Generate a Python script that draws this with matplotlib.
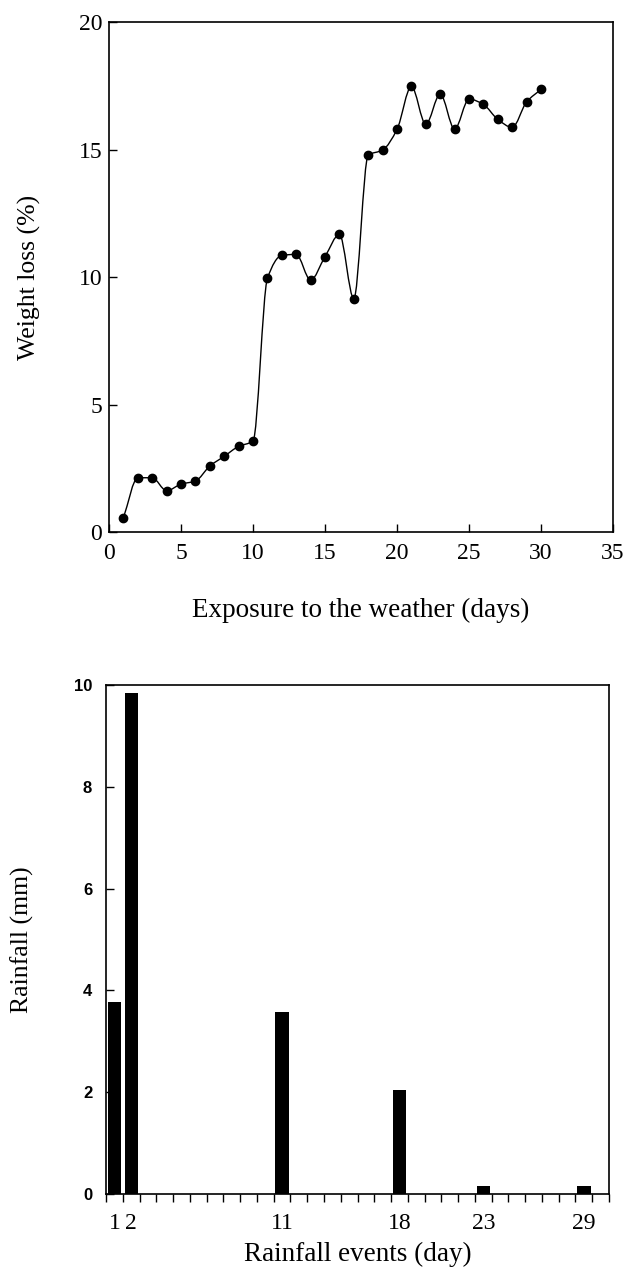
import numpy as np
import matplotlib
matplotlib.use("Agg")
import matplotlib.pyplot as plt
from matplotlib.path import Path
from matplotlib.patches import PathPatch

# ---- data ----
days = list(range(1, 31))
weight_loss = [0.56, 2.13, 2.13, 1.62, 1.88, 2.0, 2.59, 2.97, 3.36, 3.57,
               9.95, 10.85, 10.89, 9.88, 10.8, 11.67, 9.15, 14.78, 14.98, 15.79,
               17.48, 15.99, 17.18, 15.8, 16.98, 16.77, 16.18, 15.87, 16.87, 17.36]

rain_days = [1, 2, 11, 18, 23, 29]
rain_mm = [3.78, 9.84, 3.57, 2.05, 0.15, 0.16]
rain_labels = ["1", "2", "11", "18", "23", "29"]

SERIF = "Liberation Serif"
SANS = "Liberation Sans"

fig = plt.figure(figsize=(6.24, 12.75), dpi=100)

# ---- top chart ----
ax1 = fig.add_axes([0.1747, 0.5827, 0.8077, 0.4000])


def smooth_path(xs, ys):
    """Monotone cubic (PCHIP-style) Bezier path through the points."""
    x = np.asarray(xs, float)
    y = np.asarray(ys, float)
    n = len(x)
    h = np.diff(x)
    dl = np.diff(y) / h
    m = np.zeros(n)
    for k in range(1, n - 1):
        if dl[k - 1] * dl[k] > 0:
            w1 = 2 * h[k] + h[k - 1]
            w2 = h[k] + 2 * h[k - 1]
            m[k] = (w1 + w2) / (w1 / dl[k - 1] + w2 / dl[k])
    m[0] = dl[0]
    m[-1] = dl[-1]
    verts = [(x[0], y[0])]
    codes = [Path.MOVETO]
    for i in range(n - 1):
        c1 = (x[i] + h[i] / 3, y[i] + m[i] * h[i] / 3)
        c2 = (x[i + 1] - h[i] / 3, y[i + 1] - m[i + 1] * h[i] / 3)
        verts += [c1, c2, (x[i + 1], y[i + 1])]
        codes += [Path.CURVE4] * 3
    return Path(verts, codes)


ax1.add_patch(PathPatch(smooth_path(days, weight_loss), facecolor="none",
                        edgecolor="black", lw=1.0))
ax1.plot(days, weight_loss, ls="none", marker="o", ms=6, color="black")
ax1.set_xlim(0, 35)
ax1.set_ylim(0, 20)
ax1.set_xticks(range(0, 36, 5))
ax1.set_yticks(range(0, 21, 5))
ax1.tick_params(direction="in", length=6, width=1, labelsize=17)
ax1.tick_params(axis="x", pad=8)
ax1.tick_params(axis="y", pad=5)
for lab in ax1.get_xticklabels() + ax1.get_yticklabels():
    lab.set_fontfamily(SERIF)
ax1.set_xlabel("Exposure to the weather (days)", fontsize=19.5,
               fontfamily=SERIF, labelpad=24)
ax1.set_ylabel("Weight loss (%)", fontsize=18.5, fontfamily=SERIF, labelpad=27)
for s in ax1.spines.values():
    s.set_linewidth(1.2)

# ---- bottom chart ----
ax2 = fig.add_axes([0.170, 0.0635, 0.806, 0.3992])
ax2.bar(rain_days, rain_mm, width=0.8, color="black")
ax2.set_xlim(0.5, 30.5)
ax2.set_ylim(0, 10)
ax2.set_yticks(range(0, 11, 2))
ax2.set_yticklabels([str(v) for v in range(0, 11, 2)], fontfamily=SANS,
                    fontweight="bold", fontsize=12)
ax2.set_xticks(rain_days)
ax2.set_xticklabels(rain_labels, fontfamily=SERIF, fontsize=17)
ax2.set_xticks(np.arange(0.5, 31, 1.0), minor=True)
ax2.tick_params(axis="y", direction="in", length=6, width=1, pad=10)
ax2.tick_params(axis="x", which="major", length=0, pad=14)
ax2.tick_params(axis="x", which="minor", direction="out", length=6, width=1)
ax2.set_xlabel("Rainfall events (day)", fontsize=19.5, fontfamily=SERIF,
               labelpad=5)
ax2.set_ylabel("Rainfall (mm)", fontsize=18.5, fontfamily=SERIF, labelpad=29)
for s in ax2.spines.values():
    s.set_linewidth(1.2)

fig.savefig("out.png", dpi=100)
